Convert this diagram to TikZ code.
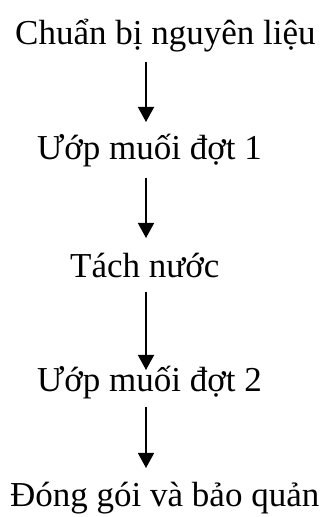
\documentclass[tikz,border=0pt]{standalone}
\usepackage{fontspec}
\setmainfont{Liberation Serif}
\usetikzlibrary{arrows.meta,calc}

\begin{document}
\begin{tikzpicture}[x=1pt,y=1pt,
  steptext/.style={anchor=base west,inner sep=0pt,font=\fontsize{35}{40}\selectfont},
  flow/.style={line width=1.5pt,-{Triangle[length=15pt,width=16pt]}}]
  \useasboundingbox[fill=white] (0,0) rectangle (326,517);

  % process steps, top to bottom
  \node[steptext] (s1) at (15,472) {Chuẩn bị nguyên liệu};
  \node[steptext] (s2) at (37,357) {Ướp muối đợt 1};
  \node[steptext] (s3) at (70,239) {Tách nước};
  \node[steptext] (s4) at (37,125) {Ướp muối đợt 2};
  \node[steptext] (s5) at (10,10) {Đóng gói và bảo quản};

  % common vertical line of the arrows
  \coordinate (ax) at (146,0);

  \draw[flow] ($(ax |- s1.base)+(0,-17)$) -- ($(ax |- s2.base)+(0,38)$);
  \draw[flow] ($(ax |- s2.base)+(0,-18)$) -- ($(ax |- s3.base)+(0,40)$);
  \draw[flow] ($(ax |- s3.base)+(0,-14)$) -- ($(ax |- s4.base)+(0,22)$);
  \draw[flow] ($(ax |- s4.base)+(0,-15)$) -- ($(ax |- s5.base)+(0,39)$);
\end{tikzpicture}
\end{document}
